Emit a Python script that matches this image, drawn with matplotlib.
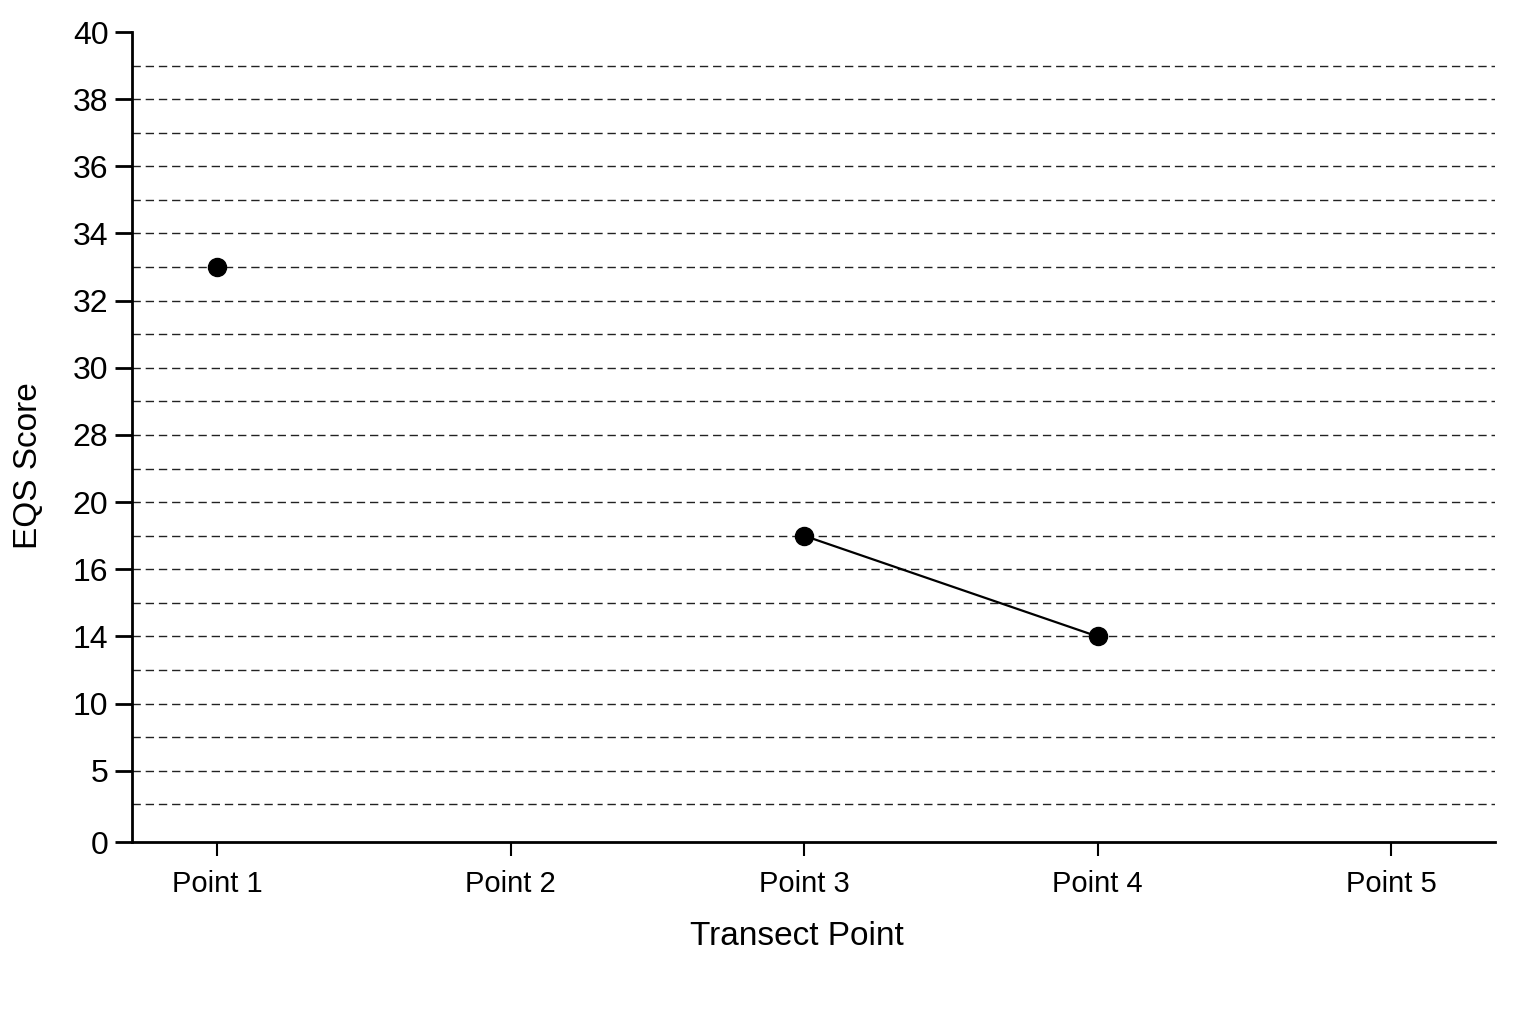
import numpy as np
import matplotlib
matplotlib.use("Agg")
import matplotlib.pyplot as plt

plt.rcParams['font.family'] = ['Liberation Sans', 'DejaVu Sans']

categories = ["Point 1", "Point 2", "Point 3", "Point 4", "Point 5"]
eqs_scores = [33, np.nan, 18, 14, np.nan]
ytick_values = [0, 5, 10, 14, 16, 20, 28, 30, 32, 34, 36, 38, 40]

# the chart uses an evenly spaced (non-linear) value scale
tick_pos = np.arange(len(ytick_values), dtype=float)
y_pos = np.array([np.interp(v, ytick_values, tick_pos) if not np.isnan(v) else np.nan
                  for v in eqs_scores])
x_pos = np.arange(len(categories))

y_bottom = -0.06  # the zero baseline sits slightly below the regular spacing
fig = plt.figure(figsize=(15.36, 10.24), dpi=100)
ax = fig.add_axes([132/1536, 1 - 842/1024, (1495-132)/1536, (842-32)/1024])

# dashed grid at every half step (below the top)
for g in np.arange(0.5, len(ytick_values) - 1 - 0.01, 0.5):
    ax.axhline(g, color='#222222', lw=1.0, ls=(0, (6, 3.5)), zorder=1)

ax.plot(x_pos, y_pos, color='black', lw=1.6, marker='o', ms=13, zorder=3)

ax.set_xlim(-0.29, 4.354)
ax.set_ylim(y_bottom, len(ytick_values) - 1)
ax.set_xticks(x_pos)
ax.set_xticklabels(categories)
ytick_locs = tick_pos.copy()
ytick_locs[0] = y_bottom
ax.set_yticks(ytick_locs)
ax.set_yticklabels([str(v) for v in ytick_values])

for s in ['top', 'right']:
    ax.spines[s].set_visible(False)
for s in ['left', 'bottom']:
    ax.spines[s].set_linewidth(2)
    ax.spines[s].set_color('black')

ax.tick_params(axis='y', length=12, width=2, labelsize=23, pad=5, colors='black')
ax.tick_params(axis='x', length=10, width=1.5, labelsize=21, pad=10, colors='black')

ax.set_xlabel("Transect Point", fontsize=24)
ax.set_ylabel("EQS Score", fontsize=24)
ax.xaxis.set_label_coords((797-132)/(1495-132), -(921-842)/810)
ax.yaxis.set_label_coords(-(132-44)/(1495-132), (842-466)/810)

fig.savefig("out.png", dpi=100, facecolor='white')
